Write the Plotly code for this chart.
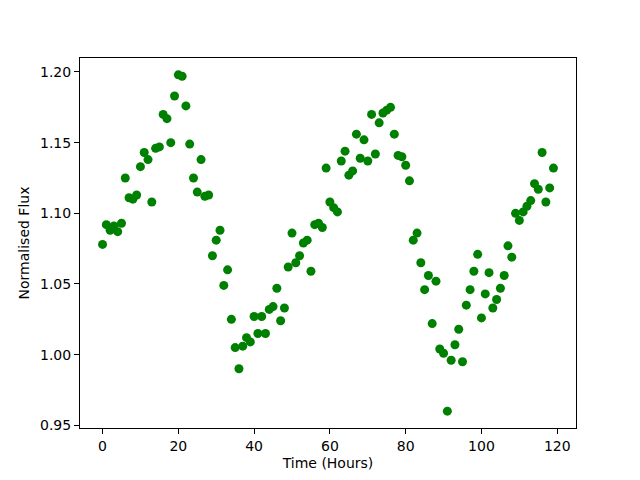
import plotly.graph_objects as go

time_hours = [0, 1, 2, 3, 4, 5, 6, 7, 8, 9, 10, 11, 12, 13, 14, 15, 16, 17, 18, 19,
              20, 21, 22, 23, 24, 25, 26, 27, 28, 29, 30, 31, 32, 33, 34, 35, 36, 37, 38, 39,
              40, 41, 42, 43, 44, 45, 46, 47, 48, 49, 50, 51, 52, 53, 54, 55, 56, 57, 58, 59,
              60, 61, 62, 63, 64, 65, 66, 67, 68, 69, 70, 71, 72, 73, 74, 75, 76, 77, 78, 79,
              80, 81, 82, 83, 84, 85, 86, 87, 88, 89, 90, 91, 92, 93, 94, 95, 96, 97, 98, 99,
              100, 101, 102, 103, 104, 105, 106, 107, 108, 109, 110, 111, 112, 113, 114, 115,
              116, 117, 118, 119]

flux = [1.078, 1.092, 1.088, 1.091, 1.087, 1.093, 1.125, 1.111, 1.110, 1.113,
        1.133, 1.143, 1.138, 1.108, 1.146, 1.147, 1.170, 1.167, 1.150, 1.183,
        1.198, 1.197, 1.176, 1.149, 1.125, 1.115, 1.138, 1.112, 1.113, 1.070,
        1.081, 1.088, 1.049, 1.060, 1.025, 1.005, 0.990, 1.006, 1.012, 1.009,
        1.027, 1.015, 1.027, 1.015, 1.032, 1.034, 1.047, 1.024, 1.033, 1.062,
        1.086, 1.065, 1.070, 1.079, 1.081, 1.059, 1.092, 1.093, 1.090, 1.132,
        1.108, 1.104, 1.101, 1.137, 1.144, 1.127, 1.130, 1.156, 1.139, 1.152,
        1.137, 1.170, 1.142, 1.164, 1.171, 1.173, 1.175, 1.156, 1.141, 1.140,
        1.134, 1.123, 1.081, 1.086, 1.065, 1.046, 1.056, 1.022, 1.052, 1.004,
        1.001, 0.960, 0.996, 1.007, 1.018, 0.995, 1.035, 1.046, 1.059, 1.071,
        1.026, 1.043, 1.058, 1.033, 1.039, 1.047, 1.056, 1.077, 1.069, 1.100,
        1.095, 1.101, 1.105, 1.109, 1.121, 1.117, 1.143, 1.108, 1.118, 1.132]

x_ticks = [0, 20, 40, 60, 80, 100, 120]
y_ticks = [0.95, 1.00, 1.05, 1.10, 1.15, 1.20]

xmin, xmax = min(time_hours), max(time_hours)
ymin, ymax = min(flux), max(flux)
xpad = 0.05 * (xmax - xmin)
ypad = 0.05 * (ymax - ymin)

fig = go.Figure(go.Scatter(
    x=time_hours, y=flux, mode="markers",
    marker=dict(color="#008000", size=9, line=dict(width=0)),
))

axis_common = dict(
    showgrid=False, zeroline=False, showline=True, linecolor="black",
    linewidth=1, mirror=True, ticks="outside", ticklen=5, tickwidth=1,
    tickcolor="black", tickfont=dict(family="DejaVu Sans", size=14, color="black"),
    automargin=False,
)

fig.update_layout(
    width=640, height=480,
    margin=dict(l=72, r=72, t=50, b=60),
    paper_bgcolor="white", plot_bgcolor="white",
    font=dict(family="DejaVu Sans", size=14, color="black"),
    showlegend=False,
    xaxis=dict(range=[xmin - xpad, xmax + xpad], tickvals=x_ticks,
               ticktext=[str(v) for v in x_ticks],
               title=dict(text="Time (Hours)", font=dict(size=14), standoff=5),
               **axis_common),
    yaxis=dict(range=[ymin - ypad, ymax + ypad], tickvals=y_ticks,
               ticktext=[f"{v:.2f}" for v in y_ticks],
               title=dict(text="Normalised Flux", font=dict(size=14), standoff=7),
               **axis_common),
)

fig.write_html("out.html")
